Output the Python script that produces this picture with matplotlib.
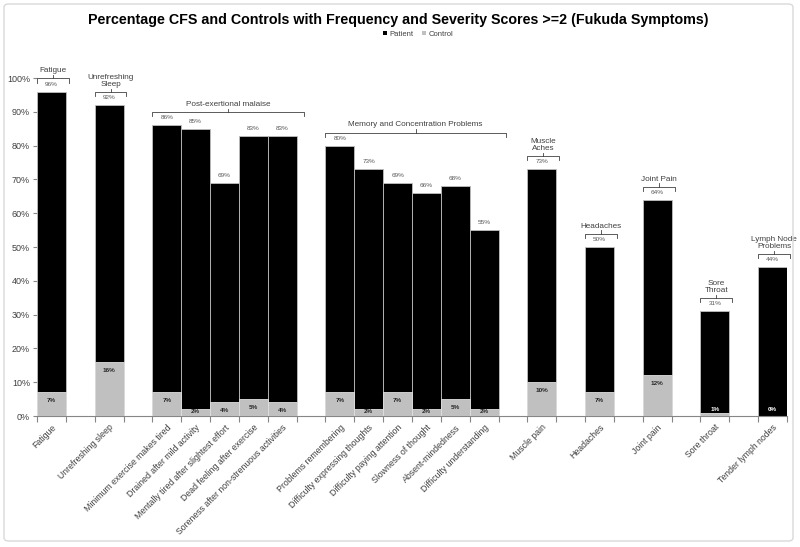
import numpy as np
import matplotlib
matplotlib.use("Agg")
import matplotlib.pyplot as plt
from matplotlib.patches import FancyBboxPatch, Patch

plt.rcParams["font.family"] = ["Liberation Sans", "DejaVu Sans"]

# ── Data (empty strings / NaN are spacer slots between symptom groups) ─────────
categories = [
    "Fatigue", "", "Unrefreshing sleep", "",
    "Minimum exercise makes tired", "Drained after mild activity",
    "Mentally tired after slightest effort", "Dead feeling after exercise",
    "Soreness after non-strenuous activities", "",
    "Problems remembering", "Difficulty expressing thoughts",
    "Difficulty paying attention", "Slowness of thought",
    "Absent-mindedness", "Difficulty understanding", "",
    "Muscle pain", "", "Headaches", "", "Joint pain", "",
    "Sore throat", "", "Tender lymph nodes",
]
N = np.nan
patient = [96, N, 92, N, 86, 85, 69, 83, 83, N, 80, 73, 69, 66, 68, 55, N,
           73, N, 50, N, 64, N, 31, N, 44]
control = [7, N, 16, N, 7, 2, 4, 5, 4, N, 7, 2, 7, 2, 5, 2, N,
           10, N, 7, N, 12, N, 1, N, 0]

group_names = ["Fatigue", "Unrefreshing\nSleep", "Post-exertional malaise",
               "Memory and Concentration Problems", "Muscle\nAches",
               "Headaches", "Joint Pain", "Sore\nThroat", "Lymph Node\nProblems"]
group_first = [0, 2, 4, 10, 17, 19, 21, 23, 25]
group_last = [0, 2, 8, 15, 17, 19, 21, 23, 25]

TITLE = "Percentage CFS and Controls with Frequency and Severity Scores >=2 (Fukuda Symptoms)"

BLACK = "#000000"
GREY = "#c0c0c0"
TXT = "#404040"
AXC = "#868686"

fig = plt.figure(figsize=(8.0, 5.47), dpi=100)
fig.patch.set_facecolor("white")

# chart-area border
fig.patches.append(FancyBboxPatch((4 / 800, 6 / 547), 789 / 800, 537 / 547,
                                  boxstyle="round,pad=0,rounding_size=0.006",
                                  transform=fig.transFigure, fill=False,
                                  edgecolor="#d9d9d9", linewidth=1.0))

ax = fig.add_axes([37 / 800, 1 - 416 / 547, 750 / 800, 371 / 547])
x = np.arange(len(categories))
pat = np.array(patient, dtype=float) / 100
con = np.array(control, dtype=float) / 100

ax.bar(x, pat, width=1.0, color=BLACK, edgecolor="#bfbfbf", linewidth=0.6, zorder=2)
ax.bar(x, con, width=1.0, color=GREY, edgecolor="#e0e0e0", linewidth=0.6, zorder=3)

ax.set_xlim(-0.5, len(categories) - 0.5)
ax.set_ylim(0, 1.098)

# patient value labels
for xi, v in zip(x, pat):
    if np.isnan(v):
        continue
    ax.text(xi, v + 0.022, f"{v * 100:.0f}%", ha="center", va="center",
            fontsize=4.6, color="#595959", zorder=4)

# control value labels
for xi, v in zip(x, con):
    if np.isnan(v):
        continue
    if v >= 0.015:
        yl, col = max(v - 0.025, 0.012), "#262626"
    else:
        yl, col = 0.02, "white"
    ax.text(xi, yl, f"{v * 100:.0f}%", ha="center", va="center",
            fontsize=4.6, fontweight="bold", color=col, zorder=4)

# group brackets
for name, s0, s1 in zip(group_names, group_first, group_last):
    top = np.nanmax(pat[s0:s1 + 1])
    yb = top + 0.039
    x0 = s0 - 0.5
    x1 = s1 + 0.5 + (0.1 if s0 == s1 else 0.25)
    xm = (x0 + x1) / 2
    ax.plot([x0, x0, x1, x1], [yb - 0.012, yb, yb, yb - 0.012],
            color=TXT, lw=0.6, clip_on=False, zorder=4)
    ax.plot([xm, xm], [yb, yb + 0.01], color=TXT, lw=0.6, clip_on=False, zorder=4)
    ax.text(xm, yb + 0.012, name, ha="center", va="bottom", fontsize=5.9,
            color=TXT, linespacing=1.05, zorder=4)

# axes styling
for side in ["top", "right", "left"]:
    ax.spines[side].set_visible(False)
ax.spines["bottom"].set_color(AXC)
ax.spines["bottom"].set_linewidth(0.8)

ax.set_yticks(np.arange(0, 1.01, 0.1))
ax.set_yticklabels([f"{int(round(t * 100))}%" for t in np.arange(0, 1.01, 0.1)])
ax.tick_params(axis="y", length=3, color=AXC, labelsize=6.5, labelcolor=TXT, pad=2)

ax.set_xticks(x)
ax.set_xticklabels(categories, rotation=45, ha="right", rotation_mode="anchor")
ax.set_xticks(np.arange(-0.5, len(categories), 1.0), minor=True)
ax.tick_params(axis="x", which="major", length=0, labelsize=6.3, labelcolor=TXT, pad=5)
ax.tick_params(axis="x", which="minor", length=4, color=AXC, width=0.8)

fig.text(398 / 800, 1 - 20 / 547, TITLE, ha="center", va="center",
         fontsize=10.3, fontweight="bold", color=BLACK)

handles = [Patch(facecolor=BLACK, label="Patient"), Patch(facecolor=GREY, label="Control")]
fig.legend(handles=handles, loc="center", bbox_to_anchor=(418 / 800, 1 - 34 / 547),
           ncol=2, frameon=False, fontsize=5.5, handlelength=0.5, handleheight=0.5,
           handletextpad=0.3, columnspacing=1.2, labelcolor=TXT)

fig.savefig("out.png", dpi=100, facecolor="white")
plt.close(fig)
